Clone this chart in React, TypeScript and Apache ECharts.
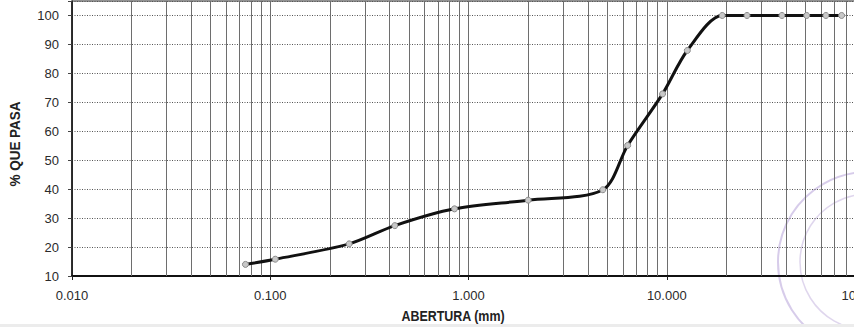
import React, { useEffect, useRef } from 'react';
import * as echarts from 'echarts';

// Sieve openings (mm) and % passing
const sieveSizes = [0.075, 0.106, 0.25, 0.425, 0.85, 2.0, 4.76, 6.35, 9.525, 12.7, 19.05, 25.4, 38.1, 50.8, 63.5, 76.2];
const percentPassing = [14.0, 15.8, 21.1, 27.4, 33.2, 36.2, 39.8, 55.1, 72.9, 87.9, 100, 100, 100, 100, 100, 100];

// Minor log grid lines (2..9 of each decade)
const minorGridValues = [
  0.02, 0.03, 0.04, 0.05, 0.06, 0.07, 0.08, 0.09,
  0.2, 0.3, 0.4, 0.5, 0.6, 0.7, 0.8, 0.9,
  2, 3, 4, 5, 6, 7, 8, 9,
  20, 30, 40, 50, 60, 70, 80, 90,
];

const yLabels = [10, 20, 30, 40, 50, 60, 70, 80, 90, 100];
const xTitle = 'ABERTURA (mm)';
const yTitle = '% QUE PASA';

const FONT = "'Liberation Sans Narrow', 'Arial Narrow', 'Liberation Sans', Arial, sans-serif";

export default function App() {
  const ref = useRef<HTMLDivElement>(null);

  useEffect(() => {
    if (!ref.current) return;
    const chart = echarts.init(ref.current, undefined, { renderer: 'svg' });
    const curve = sieveSizes.map((s, i) => [s, percentPassing[i]]);
    chart.setOption({
      animation: false,
      backgroundColor: '#ffffff',
      textStyle: { fontFamily: FONT },
      grid: {
        left: 72,
        top: 1,
        right: 5,
        bottom: 51,
        show: true,
        borderColor: '#222',
        borderWidth: 1,
        outerBoundsMode: 'none',
        containLabel: false,
      },
      xAxis: {
        type: 'log',
        logBase: 10,
        min: 0.01,
        max: 100,
        axisLine: { show: true, lineStyle: { color: '#111', width: 2 } },
        axisTick: { show: true, length: 4, lineStyle: { color: '#222' } },
        axisLabel: {
          margin: 13,
          fontSize: 13,
          color: '#2a2a2a',
          fontFamily: FONT,
          hideOverlap: false,
          formatter: (v: number) => Number(v).toFixed(3),
        },
        splitLine: { show: true, lineStyle: { color: '#6e6e6e', width: 1 } },
      },
      yAxis: {
        type: 'value',
        min: 10,
        max: 105,
        interval: 10,
        axisLine: { show: true, lineStyle: { color: '#111', width: 1.5 } },
        axisTick: { show: true, length: 4, lineStyle: { color: '#444' } },
        axisLabel: {
          margin: 13,
          fontSize: 13,
          color: '#2a2a2a',
          fontFamily: FONT,
          formatter: (v: number) => (yLabels.indexOf(Math.round(v)) >= 0 && v <= 100 ? String(Math.round(v)) : ''),
        },
        splitLine: { show: true, lineStyle: { color: '#555', width: 1, type: [1, 1.5] } },
      },
      series: [
        {
          type: 'line',
          data: [[0.01, 10]],
          showSymbol: false,
          symbol: 'none',
          lineStyle: { opacity: 0 },
          silent: true,
          z: 1,
          markLine: {
            silent: true,
            symbol: ['none', 'none'],
            label: { show: false },
            lineStyle: { color: '#6e6e6e', type: 'solid', width: 1 },
            data: minorGridValues.map((v) => ({ xAxis: v })),
          },
        },
        {
          type: 'line',
          data: curve,
          smooth: 0.3,
          z: 5,
          symbol: 'circle',
          symbolSize: 6,
          itemStyle: { color: '#c8c8c8', borderColor: '#8a8a8a', borderWidth: 1 },
          lineStyle: { color: '#111', width: 3 },
        },
      ],
      graphic: [
        {
          type: 'text',
          x: 453,
          y: 316,
          scaleX: 0.83,
          style: {
            text: xTitle,
            fontSize: 15,
            fontWeight: 'bold',
            fontFamily: FONT,
            fill: '#222',
            align: 'center',
            verticalAlign: 'middle',
          },
        },
        {
          type: 'text',
          x: 15,
          y: 144,
          rotation: Math.PI / 2,
          scaleX: 0.9,
          style: {
            text: yTitle,
            fontSize: 15,
            fontWeight: 'bold',
            fontFamily: FONT,
            fill: '#222',
            align: 'center',
            verticalAlign: 'middle',
          },
        },
        {
          type: 'circle',
          shape: { cx: 868, cy: 262, r: 90 },
          silent: true,
          style: { fill: 'none', stroke: '#b7a3d8', lineWidth: 2, opacity: 0.55 },
        },
        {
          type: 'circle',
          shape: { cx: 868, cy: 262, r: 68 },
          silent: true,
          style: { fill: 'none', stroke: '#b7a3d8', lineWidth: 1.5, opacity: 0.45 },
        },
        {
          type: 'rect',
          shape: { x: 0, y: 324, width: 854, height: 3 },
          silent: true,
          style: { fill: '#ececec' },
        },
      ],
    });
    return () => chart.dispose();
  }, []);

  return (
    <div style={{ position: 'fixed', left: 0, top: 0, width: 854, height: 327, overflow: 'hidden', background: '#fff' }}>
      <div ref={ref} style={{ width: 870, height: 327 }} />
    </div>
  );
}
